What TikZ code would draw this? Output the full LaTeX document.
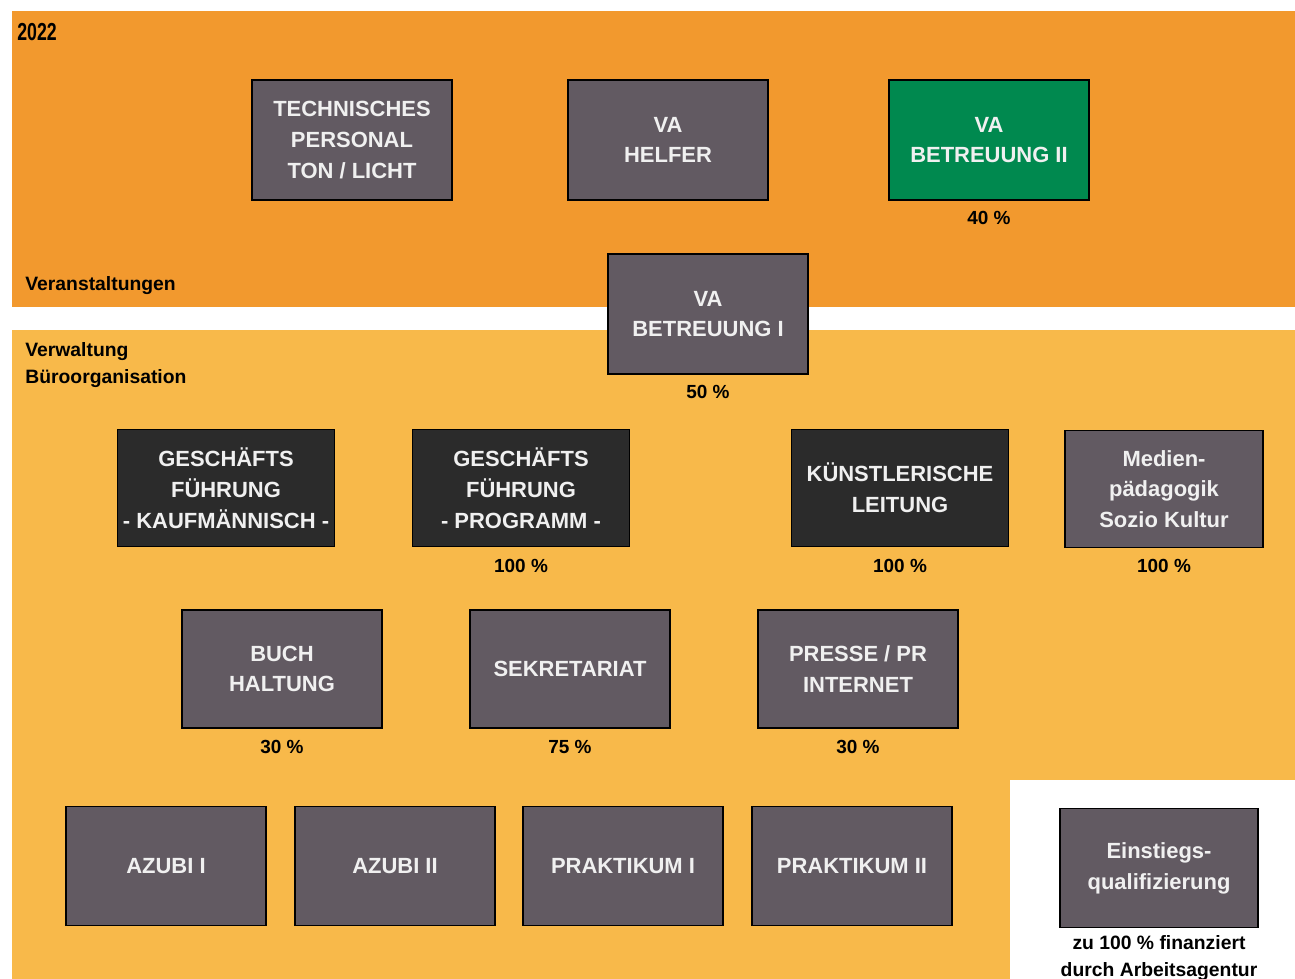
\documentclass[tikz,border=0pt]{standalone}
\usepackage{fontspec}
\setmainfont{Liberation Sans}
\usepackage{tikz}
\definecolor{bandtop}{RGB}{242,153,46}
\definecolor{bandlow}{RGB}{248,185,74}
\definecolor{boxgray}{RGB}{98,90,98}
\definecolor{boxdark}{RGB}{43,43,43}
\definecolor{boxgreen}{RGB}{0,137,79}
\definecolor{boxtext}{RGB}{240,240,240}
\begin{document}
\begin{tikzpicture}[x=0.2mm,y=-0.2mm,
  unit/.style={draw=black,line width=0.35mm,fill=boxgray,text=boxtext,align=center,
    minimum width=40mm,minimum height=24mm,inner sep=0pt,
    font=\bfseries\fontsize{12.5}{17.5}\selectfont},
  lead/.style={unit,fill=boxdark,minimum width=43.4mm,minimum height=23.4mm},
  pct/.style={font=\bfseries\fontsize{10.8}{12}\selectfont,inner sep=0pt,align=center},
  area/.style={anchor=west,font=\bfseries\fontsize{11}{15}\selectfont,inner sep=0pt,align=left}]
\useasboundingbox (0,0) rectangle (1295,979);
\fill[white] (0,0) rectangle (1295,979);
% bands
\fill[bandtop] (12,11) rectangle (1295,307);
\fill[bandlow] (12,330) rectangle (1295,979);
\fill[white] (1010,780) rectangle (1295,979);
\node[anchor=west,inner sep=0pt] (year) at (17,32) {\scalebox{0.72}[1]{\bfseries\fontsize{14}{14}\selectfont 2022}};
\node[area] (va) at (25,286) {Veranstaltungen};
\node[area] (vw) at (25,365) {Verwaltung\\Büroorganisation};
% Veranstaltungen
\node[unit] (tech) at (352,140) {TECHNISCHES\\PERSONAL\\TON / LICHT};
\node[unit] (helfer) at (668,140) {VA\\HELFER};
\node[unit,fill=boxgreen] (betr2) at (989,140) {VA\\BETREUUNG II};
\node[pct] (p-betr2) at ([yshift=-3.4mm]betr2.south) {40 \%};
\node[unit] (betr1) at (708,314) {VA\\BETREUUNG I};
\node[pct] (p-betr1) at ([yshift=-3.4mm]betr1.south) {50 \%};
% Leitung
\node[lead] (gfk) at (226,488) {GESCHÄFTS\\FÜHRUNG\\- KAUFMÄNNISCH -};
\node[lead] (gfp) at (521,488) {GESCHÄFTS\\FÜHRUNG\\- PROGRAMM -};
\node[pct] (p-gfp) at ([yshift=-3.8mm]gfp.south) {100 \%};
\node[lead] (kl) at (900,488) {KÜNSTLERISCHE\\LEITUNG};
\node[pct] (p-kl) at ([yshift=-3.8mm]kl.south) {100 \%};
\node[unit,minimum width=39.6mm,minimum height=23.4mm] (med) at (1164,489) {Medien-\\pädagogik\\Sozio Kultur};
\node[pct] (p-med) at ([yshift=-3.6mm]med.south) {100 \%};
% Verwaltung
\node[unit,minimum height=23.6mm] (buch) at (282,669) {BUCH\\HALTUNG};
\node[pct] (p-buch) at ([yshift=-3.6mm]buch.south) {30 \%};
\node[unit,minimum height=23.6mm] (sek) at (570,669) {SEKRETARIAT};
\node[pct] (p-sek) at ([yshift=-3.6mm]sek.south) {75 \%};
\node[unit,minimum height=23.6mm] (pr) at (858,669) {PRESSE / PR\\INTERNET};
\node[pct] (p-pr) at ([yshift=-3.6mm]pr.south) {30 \%};
% Ausbildung
\node[unit,minimum height=23.8mm] (az1) at (166,866) {AZUBI I};
\node[unit,minimum height=23.8mm] (az2) at (395,866) {AZUBI II};
\node[unit,minimum height=23.8mm] (pk1) at (623,866) {PRAKTIKUM I};
\node[unit,minimum height=23.8mm] (pk2) at (852,866) {PRAKTIKUM II};
\node[unit,minimum width=39.6mm,minimum height=23.8mm] (eq) at (1159,868) {Einstiegs-\\qualifizierung};
\node[pct,anchor=north,align=center,font=\bfseries\fontsize{11}{15}\selectfont] (p-eq) at ([yshift=-1.4mm]eq.south) {zu 100 \% finanziert\\durch Arbeitsagentur};
\end{tikzpicture}
\end{document}
